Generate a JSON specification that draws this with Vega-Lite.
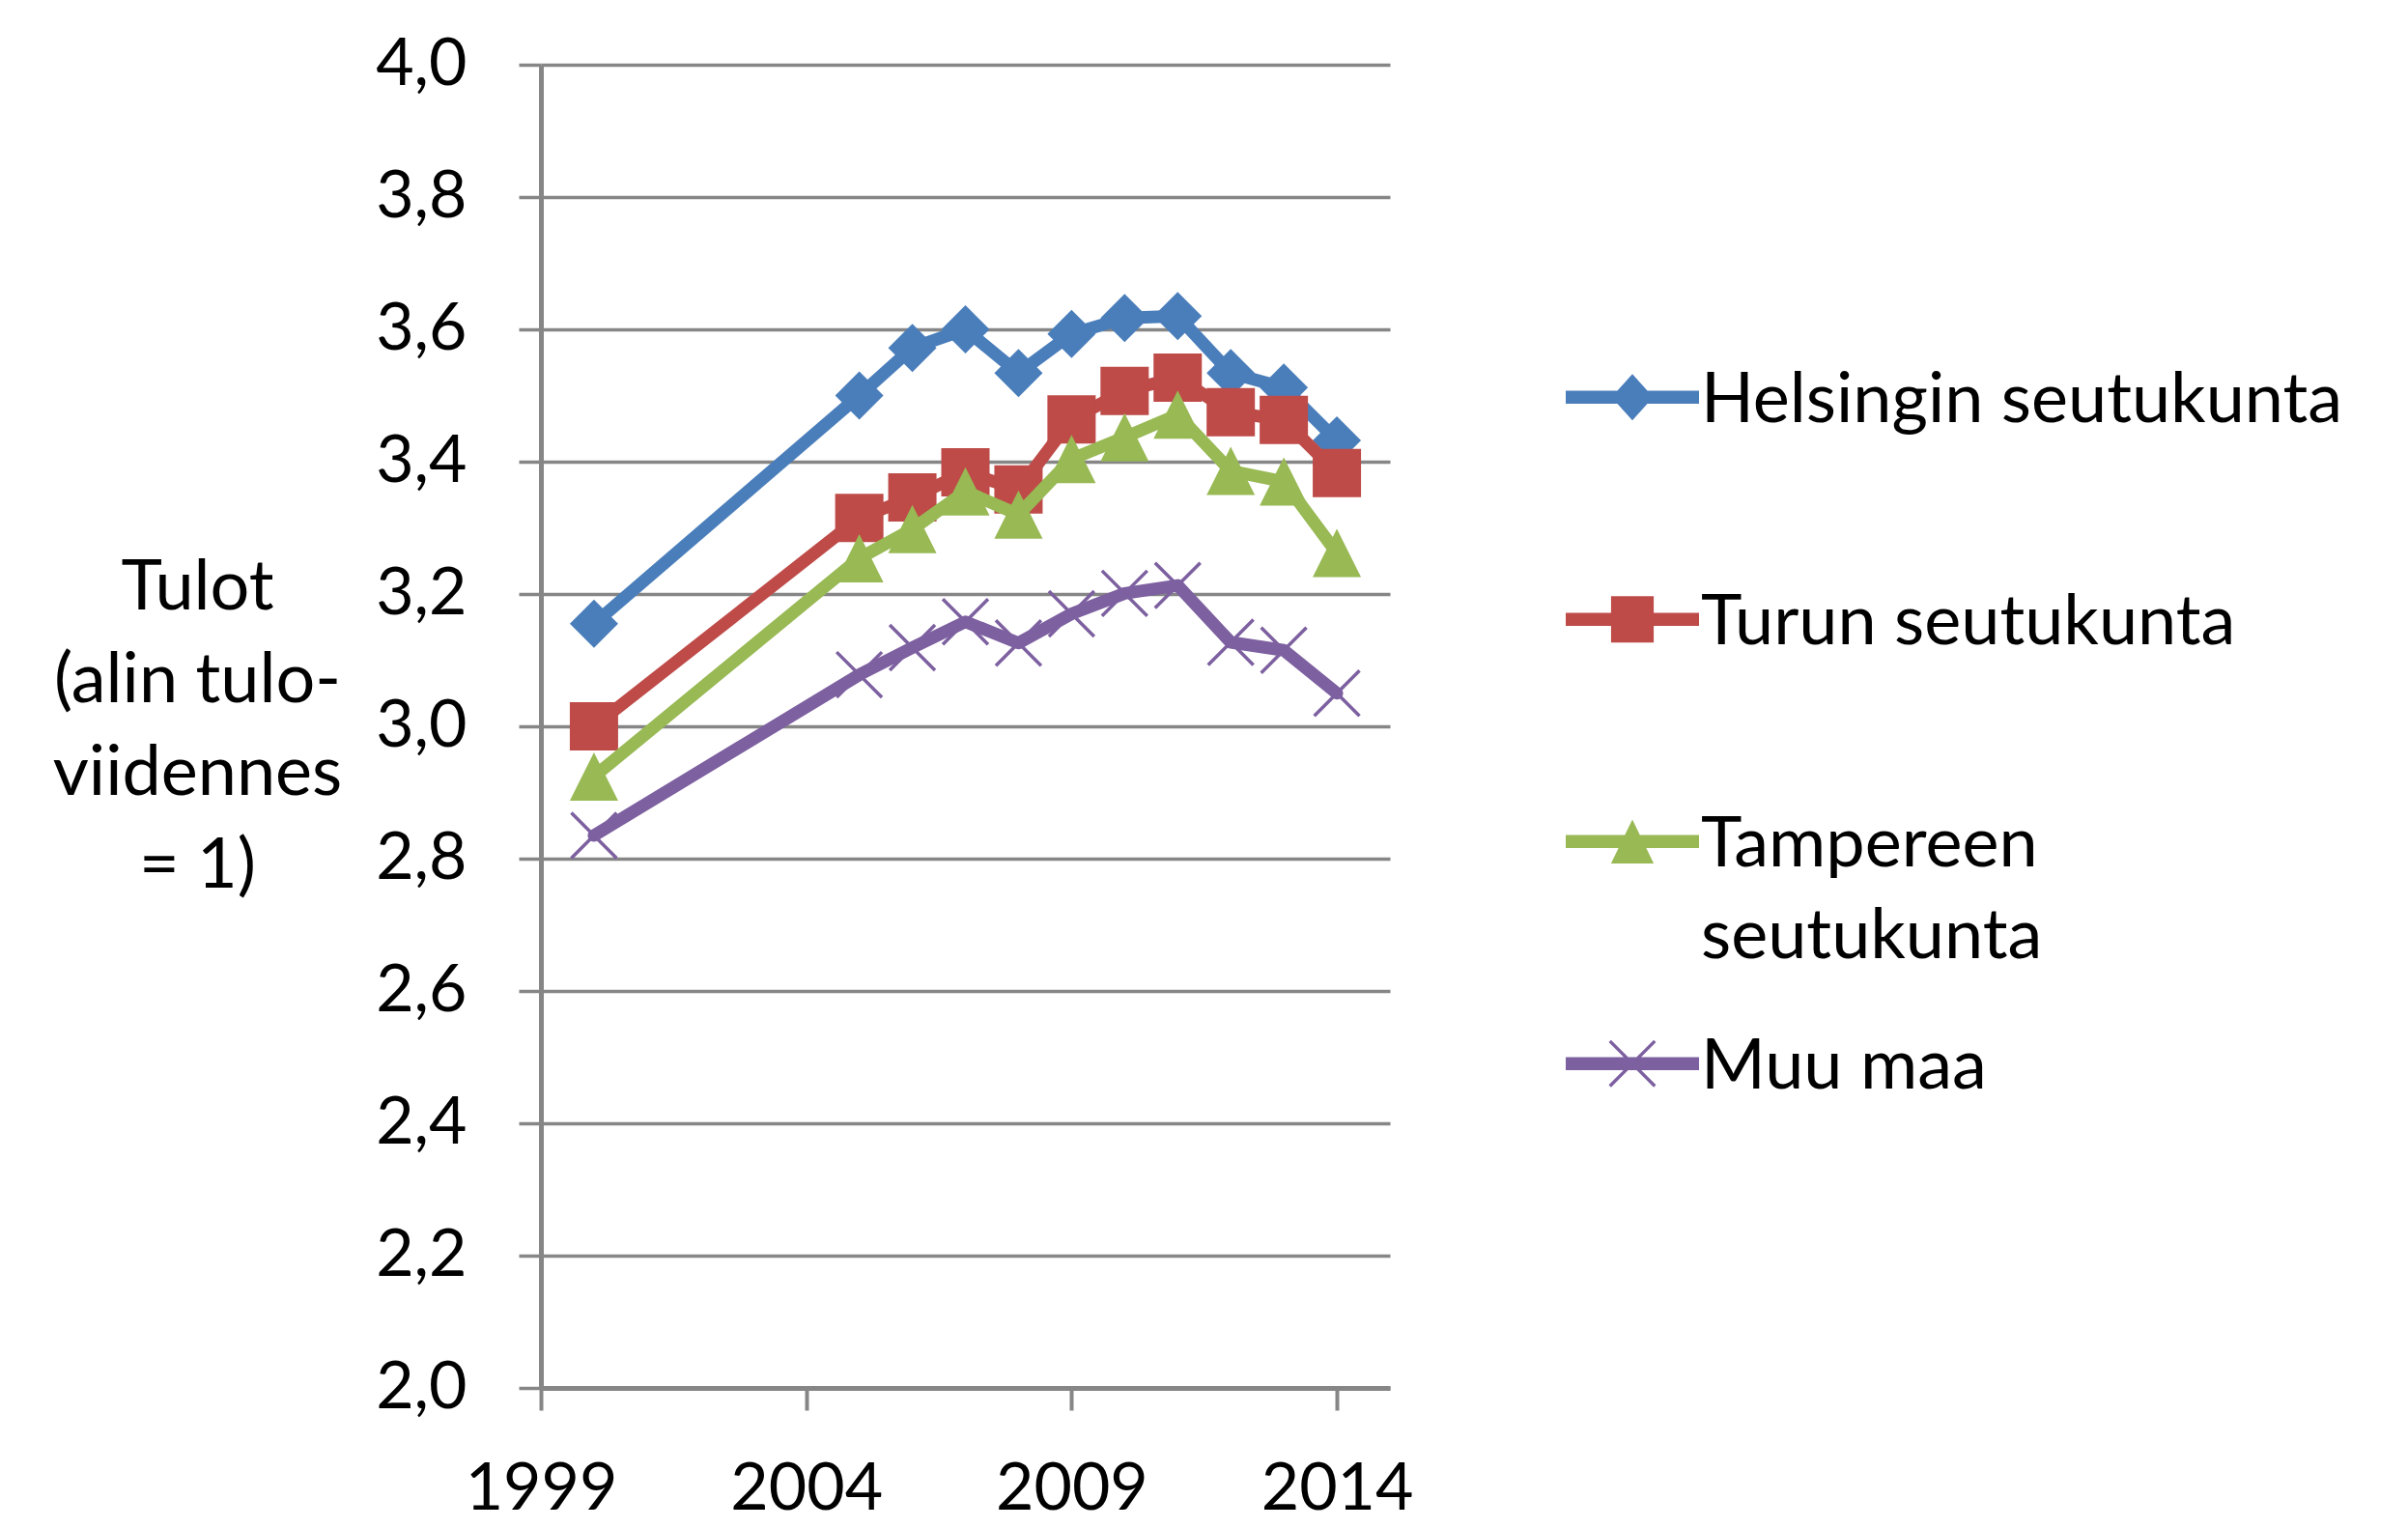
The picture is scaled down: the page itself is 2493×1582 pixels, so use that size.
{
  "$schema": "https://vega.github.io/schema/vega-lite/v6.json",
  "width": 879,
  "height": 1370,
  "autosize": "none",
  "padding": {"left": 560, "top": 67, "right": 1054, "bottom": 145},
  "background": "white",
  "config": {
    "locale": {"number": {"decimal": ",", "thousands": " ", "grouping": [3], "currency": ["", " €"]}},
    "view": {"stroke": null},
    "font": "Lato",
    "axis": {"labelColor": "black", "titleColor": "black", "labelFont": "Lato", "titleFont": "Lato"},
    "style": {"guide-label": {"lineHeight": 95}}
  },
  "data": {
    "values": [
      {"year": 2000, "series": "Helsingin seutukunta", "value": 3.155},
      {"year": 2005, "series": "Helsingin seutukunta", "value": 3.50},
      {"year": 2006, "series": "Helsingin seutukunta", "value": 3.572},
      {"year": 2007, "series": "Helsingin seutukunta", "value": 3.60},
      {"year": 2008, "series": "Helsingin seutukunta", "value": 3.534},
      {"year": 2009, "series": "Helsingin seutukunta", "value": 3.593},
      {"year": 2010, "series": "Helsingin seutukunta", "value": 3.617},
      {"year": 2011, "series": "Helsingin seutukunta", "value": 3.62},
      {"year": 2012, "series": "Helsingin seutukunta", "value": 3.534},
      {"year": 2013, "series": "Helsingin seutukunta", "value": 3.512},
      {"year": 2014, "series": "Helsingin seutukunta", "value": 3.432},
      {"year": 2000, "series": "Turun seutukunta", "value": 3.00},
      {"year": 2005, "series": "Turun seutukunta", "value": 3.315},
      {"year": 2006, "series": "Turun seutukunta", "value": 3.346},
      {"year": 2007, "series": "Turun seutukunta", "value": 3.384},
      {"year": 2008, "series": "Turun seutukunta", "value": 3.358},
      {"year": 2009, "series": "Turun seutukunta", "value": 3.464},
      {"year": 2010, "series": "Turun seutukunta", "value": 3.507},
      {"year": 2011, "series": "Turun seutukunta", "value": 3.527},
      {"year": 2012, "series": "Turun seutukunta", "value": 3.475},
      {"year": 2013, "series": "Turun seutukunta", "value": 3.463},
      {"year": 2014, "series": "Turun seutukunta", "value": 3.383},
      {"year": 2000, "series": "Tampereen seutukunta", "value": 2.924},
      {"year": 2005, "series": "Tampereen seutukunta", "value": 3.254},
      {"year": 2006, "series": "Tampereen seutukunta", "value": 3.298},
      {"year": 2007, "series": "Tampereen seutukunta", "value": 3.355},
      {"year": 2008, "series": "Tampereen seutukunta", "value": 3.32},
      {"year": 2009, "series": "Tampereen seutukunta", "value": 3.404},
      {"year": 2010, "series": "Tampereen seutukunta", "value": 3.437},
      {"year": 2011, "series": "Tampereen seutukunta", "value": 3.471},
      {"year": 2012, "series": "Tampereen seutukunta", "value": 3.386},
      {"year": 2013, "series": "Tampereen seutukunta", "value": 3.37},
      {"year": 2014, "series": "Tampereen seutukunta", "value": 3.262},
      {"year": 2000, "series": "Muu maa", "value": 2.835},
      {"year": 2005, "series": "Muu maa", "value": 3.078},
      {"year": 2006, "series": "Muu maa", "value": 3.119},
      {"year": 2007, "series": "Muu maa", "value": 3.158},
      {"year": 2008, "series": "Muu maa", "value": 3.126},
      {"year": 2009, "series": "Muu maa", "value": 3.17},
      {"year": 2010, "series": "Muu maa", "value": 3.201},
      {"year": 2011, "series": "Muu maa", "value": 3.213},
      {"year": 2012, "series": "Muu maa", "value": 3.127},
      {"year": 2013, "series": "Muu maa", "value": 3.115},
      {"year": 2014, "series": "Muu maa", "value": 3.05}
    ]
  },
  "encoding": {
    "x": {
      "field": "year", "type": "quantitative",
      "scale": {"domain": [1999, 2015], "nice": false, "zero": false},
      "axis": {
        "values": [1999, 2004, 2009, 2014], "format": "d", "grid": false, "title": null,
        "domainColor": "#868686", "domainWidth": 5, "tickColor": "#868686", "tickWidth": 4, "tickSize": 23,
        "labelFontSize": 68, "labelPadding": 48, "labelFlush": false
      }
    },
    "y": {
      "field": "value", "type": "quantitative",
      "scale": {"domain": [2, 4], "nice": false, "zero": false},
      "axis": {
        "values": [2, 2.2, 2.4, 2.6, 2.8, 3, 3.2, 3.4, 3.6, 3.8, 4], "format": ".1f",
        "grid": true, "gridColor": "#868686", "gridWidth": 3.5,
        "domainColor": "#868686", "domainWidth": 5, "tickColor": "#868686", "tickWidth": 3.5, "tickSize": 23,
        "labelFontSize": 68, "labelPadding": 54, "labelFlush": false,
        "title": ["Tulot", "(alin tulo-", "viidennes", "= 1)"],
        "titleAngle": 0, "titleAlign": "center", "titleBaseline": "top", "titleFontSize": 72,
        "titleFontWeight": "normal", "titleLineHeight": 96, "titleX": -356, "titleY": 506
      }
    }
  },
  "layer": [
    {
      "mark": {"type": "point", "filled": true, "size": 0, "strokeWidth": 0},
      "encoding": {
        "color": {
          "field": "series", "type": "nominal",
          "scale": {
            "domain": ["Helsingin seutukunta", "Turun seutukunta", "Tampereen seutukunta", "Muu maa"],
            "range": ["#4A7EBB", "#BE4B48", "#98B954", "#7D60A0"]
          },
          "legend": {
            "orient": "none", "legendX": 1094, "legendY": 277, "title": null, "padding": 0,
            "symbolSize": 2304, "symbolStrokeWidth": 0, "symbolOpacity": 1,
            "labelFontSize": 72, "labelFont": "Lato", "labelColor": "black", "labelLimit": 1000,
            "labelOffset": 35, "rowPadding": 28, "labelBaseline": "top",
            "labelExpr": "datum.label == 'Tampereen seutukunta' ? ['Tampereen', 'seutukunta'] : [datum.label, '']"
          }
        },
        "shape": {
          "field": "series", "type": "nominal",
          "scale": {
            "domain": ["Helsingin seutukunta", "Turun seutukunta", "Tampereen seutukunta", "Muu maa"],
            "range": [
              "M-2.875,1.02H2.875V1.58H-2.875Z M0,0.3L0.9,1.3L0,2.3L-0.9,1.3Z",
              "M-2.875,1.02H2.875V1.58H-2.875Z M-0.92,0.3H0.92V2.3H-0.92Z",
              "M-2.875,1.02H2.875V1.58H-2.875Z M0,0.35L0.92,2.25L-0.92,2.25Z",
              "M-2.875,1.02H2.875V1.58H-2.875Z M-0.92,0.28L1.02,2.22L0.92,2.32L-1.02,0.38Z M-0.92,2.32L-1.02,2.22L0.92,0.28L1.02,0.38Z"
            ]
          },
          "legend": {
            "orient": "none", "legendX": 1094, "legendY": 277, "title": null, "padding": 0,
            "symbolSize": 2304, "symbolStrokeWidth": 0, "symbolOpacity": 1,
            "labelFontSize": 72, "labelFont": "Lato", "labelColor": "black", "labelLimit": 1000,
            "labelOffset": 35, "rowPadding": 28, "labelBaseline": "top",
            "labelExpr": "datum.label == 'Tampereen seutukunta' ? ['Tampereen', 'seutukunta'] : [datum.label, '']"
          }
        }
      }
    },
    {
      "transform": [{"filter": "datum.series == 'Helsingin seutukunta'"}],
      "mark": {"type": "line", "color": "#4A7EBB", "strokeWidth": 13, "strokeJoin": "round", "strokeCap": "round"},
      "encoding": {}
    },
    {
      "transform": [{"filter": "datum.series == 'Helsingin seutukunta'"}],
      "mark": {"type": "point", "color": "#4A7EBB", "shape": "diamond", "filled": true, "size": 2500, "opacity": 1, "strokeWidth": 0},
      "encoding": {}
    },
    {
      "transform": [{"filter": "datum.series == 'Turun seutukunta'"}],
      "mark": {"type": "line", "color": "#BE4B48", "strokeWidth": 13, "strokeJoin": "round", "strokeCap": "round"},
      "encoding": {}
    },
    {
      "transform": [{"filter": "datum.series == 'Turun seutukunta'"}],
      "mark": {"type": "point", "color": "#BE4B48", "shape": "square", "filled": true, "size": 2500, "opacity": 1, "strokeWidth": 0},
      "encoding": {}
    },
    {
      "transform": [{"filter": "datum.series == 'Tampereen seutukunta'"}],
      "mark": {"type": "line", "color": "#98B954", "strokeWidth": 13, "strokeJoin": "round", "strokeCap": "round"},
      "encoding": {}
    },
    {
      "transform": [{"filter": "datum.series == 'Tampereen seutukunta'"}],
      "mark": {"type": "point", "color": "#98B954", "shape": "M0,-1L1,1L-1,1Z", "filled": true, "size": 2500, "opacity": 1, "strokeWidth": 0},
      "encoding": {}
    },
    {
      "transform": [{"filter": "datum.series == 'Muu maa'"}],
      "mark": {"type": "line", "color": "#7D60A0", "strokeWidth": 13, "strokeJoin": "round", "strokeCap": "round"},
      "encoding": {}
    },
    {
      "transform": [{"filter": "datum.series == 'Muu maa'"}],
      "mark": {"type": "point", "color": "#7D60A0", "shape": "M-1,-1L1,1M-1,1L1,-1", "filled": false, "size": 2200, "opacity": 1, "strokeWidth": 3.5},
      "encoding": {}
    }
  ]
}
